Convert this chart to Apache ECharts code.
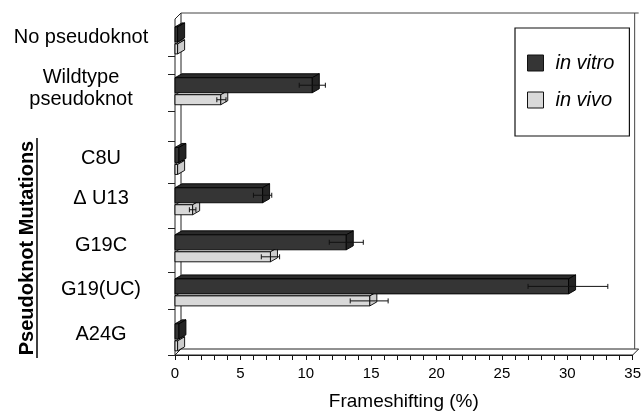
<!DOCTYPE html>
<html><head><meta charset="utf-8">
<script src="https://cdn.jsdelivr.net/npm/echarts@6/dist/echarts.min.js"></script>
<style>html,body{margin:0;padding:0;background:#fff}#c{width:644px;height:416px}</style>
</head><body><div id="c"></div>
<script>
// ---- data ----
const categories = ['No pseudoknot', 'Wildtype\npseudoknot', 'C8U', '\u0394 U13', 'G19C', 'G19(UC)', 'A24G'];
const isMutation = [false, false, true, true, true, true, true];
const rowPos = [0.45, 1.66, 3.32, 4.28, 5.4, 6.45, 7.52];
const rowTicks = [0.89, 1.31, 2.2, 2.9, 3.9, 4.98, 6.03, 6.9, 8];
const inVitro = [0.2, 10.5, 0.3, 6.7, 13.1, 30.1, 0.3];
const inVitroLo = [null, 9.5, null, 6.0, 11.8, 27.0, null];
const inVitroHi = [null, 11.5, null, 7.4, 14.4, 33.1, null];
const inVivo = [0.2, 3.5, 0.2, 1.35, 7.3, 14.9, 0.2];
const inVivoLo = [null, 3.2, null, 1.1, 6.6, 13.4, null];
const inVivoHi = [null, 3.9, null, 1.6, 8.0, 16.3, null];
const xTicks = [0, 5, 10, 15, 20, 25, 30, 35];

const FONT = '"Liberation Sans", Arial, Helvetica, sans-serif';
const DX = 7, DY = 4;

function rows(vals, lo, hi) {
  return vals.map((v, i) => [v, rowPos[i], lo[i] == null ? '-' : lo[i], hi[i] == null ? '-' : hi[i]]);
}

function barRenderer(kind) {
  return function (params, api) {
    const v = api.value(0), pos = api.value(1), lo = api.value(2), hi = api.value(3);
    const p0 = api.coord([0, pos]);
    const x0 = p0[0], yc = p0[1];
    const x1 = api.coord([v, pos])[0];
    let yt, yb, fill, topFill, sideFill;
    if (kind === 'dark') { yt = yc - 11; yb = yc + 4; fill = '#353535'; topFill = '#2a2a2a'; sideFill = '#242424'; }
    else { yt = yc + 6; yb = yc + 16; fill = '#d9d9d9'; topFill = '#ececec'; sideFill = '#cccccc'; }
    const st = { stroke: '#000', lineWidth: 0.9 };
    const ch = [
      { type: 'polygon', shape: { points: [[x0, yt], [x1, yt], [x1 + DX, yt - DY], [x0 + DX, yt - DY]] }, style: Object.assign({ fill: topFill }, st) },
      { type: 'rect', shape: { x: x0, y: yt, width: Math.max(0, x1 - x0), height: yb - yt }, style: Object.assign({ fill: fill }, st) },
      { type: 'polygon', shape: { points: [[x1, yt], [x1 + DX, yt - DY], [x1 + DX, yb - DY], [x1, yb]] }, style: Object.assign({ fill: sideFill }, st) }
    ];
    if (!isNaN(lo) && !isNaN(hi)) {
      const ye = (yt + yb) / 2;
      const xl = api.coord([lo, pos])[0], xh = api.coord([hi, pos])[0];
      const es = { stroke: '#111', lineWidth: 1 };
      ch.push({ type: 'line', shape: { x1: xl, y1: ye, x2: xh, y2: ye }, style: es });
      ch.push({ type: 'line', shape: { x1: xl, y1: ye - 2.5, x2: xl, y2: ye + 2.5 }, style: es });
      ch.push({ type: 'line', shape: { x1: xh, y1: ye - 2.5, x2: xh, y2: ye + 2.5 }, style: es });
    }
    return { type: 'group', children: ch };
  };
}

function frameRenderer(params, api) {
  const A = api.coord([0, 0]);
  const B = api.coord([0, 8]);
  const R = api.coord([xTicks[xTicks.length - 1], 8]);
  const d = 6;
  const st = { stroke: '#222', lineWidth: 1, fill: '#fff' };
  return {
    type: 'group', children: [
      { type: 'polygon', shape: { points: [[A[0], A[1]], [A[0] + d, A[1] - d], [B[0] + d, B[1] - d], [B[0], B[1]]] }, style: st },
      { type: 'polygon', shape: { points: [[B[0], B[1]], [R[0], R[1]], [R[0] + d, R[1] - d], [B[0] + d, B[1] - d]] }, style: st },
      { type: 'line', shape: { x1: A[0] + d, y1: A[1] - d, x2: R[0] + d, y2: A[1] - d }, style: { stroke: '#444', lineWidth: 1 } },
      { type: 'line', shape: { x1: R[0] + 2, y1: A[1] - d, x2: R[0] + 2, y2: R[1] - d }, style: { stroke: '#444', lineWidth: 1 } }
    ]
  };
}

const chart = echarts.init(document.getElementById('c'));
chart.setOption({
  animation: false,
  backgroundColor: '#fff',
  textStyle: { fontFamily: FONT },
  grid: { left: 174, right: 5, top: 19, bottom: 55, containLabel: false },
  legend: {
    left: 515, top: 28, orient: 'vertical',
    padding: [25, 15, 26, 12], itemGap: 17,
    borderColor: '#111', borderWidth: 1.2,
    itemWidth: 16, itemHeight: 16, icon: 'rect',
    textStyle: { fontFamily: FONT, fontSize: 20, fontStyle: 'italic', color: '#000', padding: [0, 0, 0, 7] },
    data: [
      { name: 'in vitro', itemStyle: { color: '#353535', borderColor: '#111', borderWidth: 1 } },
      { name: 'in vivo', itemStyle: { color: '#d9d9d9', borderColor: '#111', borderWidth: 1 } }
    ]
  },
  xAxis: {
    type: 'value', min: 0, max: 35, interval: 5, position: 'bottom',
    axisLine: { show: true, onZero: false, lineStyle: { color: '#111', width: 1 } },
    axisTick: { show: true, inside: false, length: 5, lineStyle: { color: '#111' } },
    minorTick: { show: true, splitNumber: 5, length: 5, lineStyle: { color: '#111' } },
    splitLine: { show: false },
    axisLabel: { fontSize: 15, color: '#000', margin: 11, fontFamily: FONT },
    name: 'Frameshifting (%)', nameLocation: 'middle', nameGap: 37,
    nameTextStyle: { fontSize: 19, color: '#000', fontFamily: FONT }
  },
  yAxis: {
    type: 'value', inverse: true, min: 0, max: 8,
    axisLine: { show: false, onZero: false },
    splitLine: { show: false },
    axisTick: { show: true, length: 7, customValues: rowTicks, lineStyle: { color: '#222' } },
    axisLabel: {
      customValues: rowPos, margin: 16, color: '#000',
      formatter: function (val) {
        let idx = 0, best = 1e9;
        rowPos.forEach((p, i) => { if (Math.abs(p - val) < best) { best = Math.abs(p - val); idx = i; } });
        const cls = isMutation[idx] ? 'b' : 'a';
        return categories[idx].split('\n').map(s => '{' + cls + '|' + s + '}').join('\n');
      },
      rich: {
        a: { width: 156, align: 'center', fontSize: 20, lineHeight: 22, color: '#000', fontFamily: FONT },
        b: { width: 116, align: 'center', fontSize: 20, lineHeight: 22, color: '#000', fontFamily: FONT }
      }
    }
  },
  graphic: [
    { type: 'text', x: 27, y: 248, rotation: Math.PI / 2,
      style: { text: 'Pseudoknot Mutations', fontSize: 20, fontWeight: 'bold', fontFamily: FONT, align: 'center', verticalAlign: 'middle', fill: '#000' } },
    { type: 'line', shape: { x1: 37, y1: 138, x2: 37, y2: 358 }, style: { stroke: '#000', lineWidth: 1.5 } }
  ],
  series: [
    { type: 'custom', name: 'frame', silent: true, z: 1, data: [[0, 0]], encode: { x: 0, y: 1 }, renderItem: frameRenderer },
    { type: 'custom', name: 'in vivo', z: 2, itemStyle: { color: '#d9d9d9' }, encode: { x: 0, y: 1 }, data: rows(inVivo, inVivoLo, inVivoHi), renderItem: barRenderer('light') },
    { type: 'custom', name: 'in vitro', z: 3, itemStyle: { color: '#353535' }, encode: { x: 0, y: 1 }, data: rows(inVitro, inVitroLo, inVitroHi), renderItem: barRenderer('dark') }
  ]
});
</script>
</body></html>
